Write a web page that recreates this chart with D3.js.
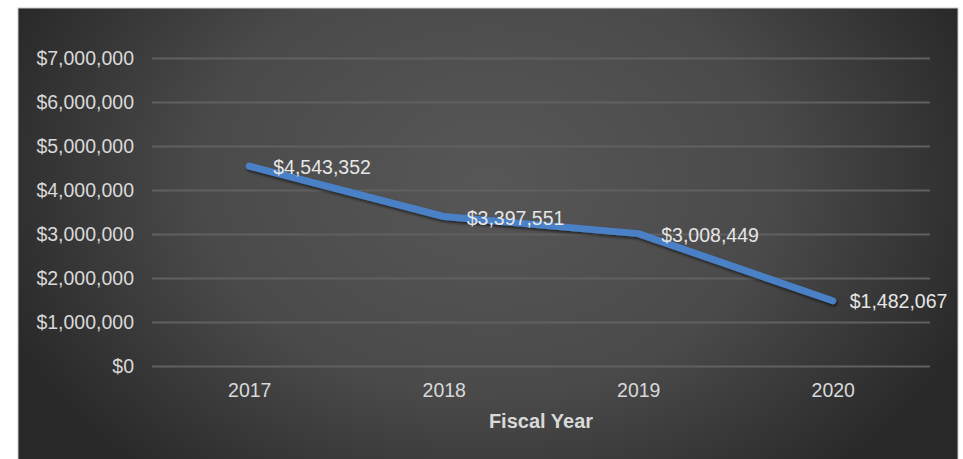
<!DOCTYPE html>
<html>
<head>
<meta charset="utf-8">
<script src="https://cdn.jsdelivr.net/npm/d3@7"></script>
<style>
  body { margin: 0; background: #fff; }
  svg { display: block; font-family: "Liberation Sans", Arial, sans-serif; }
</style>
</head>
<body>
<script>
const years = ["2017", "2018", "2019", "2020"];
const spending = [4543352, 3397551, 3008449, 1482067];
const yTicks = [0, 1000000, 2000000, 3000000, 4000000, 5000000, 6000000, 7000000];
const xTitle = "Fiscal Year";

const W = 963, H = 459;
const margin = { top: 58, right: 33, bottom: 93, left: 152 };
const width = W - margin.left - margin.right;
const height = H - margin.top - margin.bottom;
const fs = "19.5px";

const svg = d3.select("body").append("svg")
	.attr("width", W)
	.attr("height", H);

const defs = svg.append("defs");
const grad = defs.append("radialGradient")
	.attr("id", "bg")
	.attr("gradientUnits", "userSpaceOnUse")
	.attr("cx", 488).attr("cy", 180).attr("r", 520)
	.attr("gradientTransform", "translate(488,180) scale(1,0.75) translate(-488,-180)");
grad.append("stop").attr("offset", "0%").attr("stop-color", "#575757");
grad.append("stop").attr("offset", "55%").attr("stop-color", "#4a4a4a");
grad.append("stop").attr("offset", "100%").attr("stop-color", "#292929");

const shadow = defs.append("filter").attr("id", "shadow")
	.attr("x", "-10%").attr("y", "-50%").attr("width", "120%").attr("height", "200%");
shadow.append("feDropShadow")
	.attr("dx", 1).attr("dy", 2).attr("stdDeviation", 1.5)
	.attr("flood-color", "#000").attr("flood-opacity", 0.6);

// panel
svg.append("rect")
	.attr("x", 18).attr("y", 8)
	.attr("width", 940).attr("height", 460)
	.attr("fill", "url(#bg)")
	.attr("stroke", "#c8c8c8")
	.attr("stroke-width", 1);

const g = svg.append("g")
	.attr("transform", `translate(${margin.left},${margin.top})`);

const x = d3.scalePoint()
	.domain(years)
	.range([0, width])
	.padding(0.5);

const y = d3.scaleLinear()
	.domain([0, 7000000])
	.range([height, 0]);

// gridlines
g.append("g")
	.call(d3.axisLeft(y).tickValues(yTicks).tickSize(-width).tickFormat(""))
	.call(a => a.select(".domain").remove())
	.selectAll("line")
	.attr("stroke", "#606060")
	.attr("stroke-width", 2);

// y axis labels
g.append("g")
	.call(d3.axisLeft(y).tickValues(yTicks).tickSize(0).tickPadding(18)
		.tickFormat(d => "$" + d3.format(",")(d)))
	.call(a => a.select(".domain").remove())
	.selectAll("text")
	.attr("fill", "#d9d9d9")
	.style("font-size", fs)
	.style("font-family", "Liberation Sans, Arial, sans-serif");

// x axis labels
g.append("g")
	.attr("transform", `translate(0,${height})`)
	.call(d3.axisBottom(x).tickSize(0).tickPadding(17))
	.call(a => a.select(".domain").remove())
	.selectAll("text")
	.attr("fill", "#d9d9d9")
	.style("font-size", fs)
	.style("font-family", "Liberation Sans, Arial, sans-serif");

g.append("text")
	.attr("x", width / 2)
	.attr("y", height + 62)
	.attr("text-anchor", "middle")
	.attr("font-size", "20px")
	.attr("font-weight", "bold")
	.attr("fill", "#d9d9d9")
	.text(xTitle);

const data = years.map((yr, i) => ({ year: yr, value: spending[i] }));

g.append("path")
	.datum(data)
	.attr("fill", "none")
	.attr("stroke", "#4a80c6")
	.attr("stroke-width", 7)
	.attr("stroke-linecap", "round")
	.attr("stroke-linejoin", "round")
	.attr("filter", "url(#shadow)")
	.attr("d", d3.line().x(d => x(d.year)).y(d => y(d.value)));

const labelDx = [24, 23, 23, 17];
const labelDy = [1, 2, 2, 0];
g.selectAll(".lbl")
	.data(data)
	.enter().append("text")
	.attr("class", "lbl")
	.attr("x", (d, i) => x(d.year) + labelDx[i])
	.attr("y", (d, i) => y(d.value) + labelDy[i])
	.attr("dy", "0.35em")
	.attr("font-size", fs)
	.attr("fill", "#e6e6e6")
	.text(d => "$" + d3.format(",")(d.value));
</script>
</body>
</html>
